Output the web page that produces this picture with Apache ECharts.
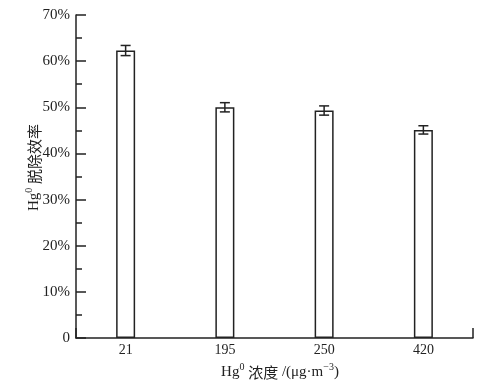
<!DOCTYPE html>
<html><head><meta charset="utf-8">
<script src="https://cdn.jsdelivr.net/npm/echarts@6/dist/echarts.min.js"></script>
<style>html,body{margin:0;padding:0;background:#fff}#c{width:484px;height:388px}</style>
</head><body><div id="c"></div>
<script>
const categories = ['21', '195', '250', '420'];
const efficiency = [62.3, 50.0, 49.3, 45.1];
const errors = [1.1, 1.0, 1.0, 0.9];
const yTicks = [0, 10, 20, 30, 40, 50, 60, 70];

const serif = '"Liberation Serif", "Times New Roman", serif';
const cjk = '"Noto Sans CJK SC", sans-serif';
const ink = '#222';

const chart = echarts.init(document.getElementById('c'), null, {renderer: 'canvas'});
const rich = {
  a: {fontFamily: serif, fontSize: 15, color: ink, lineHeight: 18, verticalAlign: 'bottom'},
  c: {fontFamily: cjk, fontSize: 15, color: ink, lineHeight: 18, verticalAlign: 'bottom'},
  s: {fontFamily: serif, fontSize: 10, color: ink, lineHeight: 18, verticalAlign: 'top', padding: [0, 0, 2, 0]}
};
chart.setOption({
  animation: false,
  grid: {left: 76, right: 11, top: 15, bottom: 50},
  xAxis: [{
    type: 'category', data: categories, boundaryGap: true,
    axisLine: {lineStyle: {color: ink, width: 1.5}},
    axisTick: {show: false},
    axisLabel: {fontFamily: serif, fontSize: 14, color: ink, margin: 5},
    name: '{a|Hg}{s|0}{a| }{c|浓度}{a| /(μg·m}{s|−3}{a|)}',
    nameLocation: 'middle', nameGap: 24, nameMoveOverlap: false,
    nameTextStyle: {rich: rich, padding: [0, 0, 0, 11]}
  }, {
    type: 'value', min: 0, max: 1, interval: 1, position: 'bottom',
    axisLine: {show: false}, splitLine: {show: false},
    axisLabel: {show: false},
    axisTick: {show: true, inside: true, length: 10, lineStyle: {color: ink, width: 1.5}}
  }],
  yAxis: {
    type: 'value', min: yTicks[0], max: yTicks[yTicks.length - 1], interval: 10,
    axisLine: {show: true, lineStyle: {color: ink, width: 1.5}},
    axisTick: {show: true, inside: true, length: 10, lineStyle: {color: ink, width: 1.5}},
    minorTick: {show: true, splitNumber: 2, length: 6, lineStyle: {color: ink, width: 1.5}},
    splitLine: {show: false},
    axisLabel: {fontFamily: serif, fontSize: 15, color: ink, margin: 6,
      formatter: v => v === 0 ? '0' : v + '%'},
    name: '{a|Hg}{s|0}{a| }{c|脱除效率}',
    nameLocation: 'middle', nameGap: 34, nameRotate: 90, nameMoveOverlap: false,
    nameTextStyle: {rich: rich, padding: [0, 0, 0, 18]}
  },
  series: [{
    type: 'bar', data: efficiency, barWidth: 19, xAxisIndex: 0,
    itemStyle: {color: '#fff', borderColor: ink, borderWidth: 1.5}
  }, {
    type: 'custom', xAxisIndex: 0, z: 5,
    data: efficiency.map((v, i) => [i, v - errors[i], v + errors[i]]),
    renderItem: function (params, api) {
      const lo = api.coord([api.value(0), api.value(1)]);
      const hi = api.coord([api.value(0), api.value(2)]);
      const w = 5;
      const st = {stroke: ink, lineWidth: 1.5};
      return {type: 'group', children: [
        {type: 'line', shape: {x1: lo[0], y1: lo[1], x2: hi[0], y2: hi[1]}, style: st},
        {type: 'line', shape: {x1: lo[0] - w, y1: lo[1], x2: lo[0] + w, y2: lo[1]}, style: st},
        {type: 'line', shape: {x1: hi[0] - w, y1: hi[1], x2: hi[0] + w, y2: hi[1]}, style: st}
      ]};
    }
  }]
});
</script></body></html>
